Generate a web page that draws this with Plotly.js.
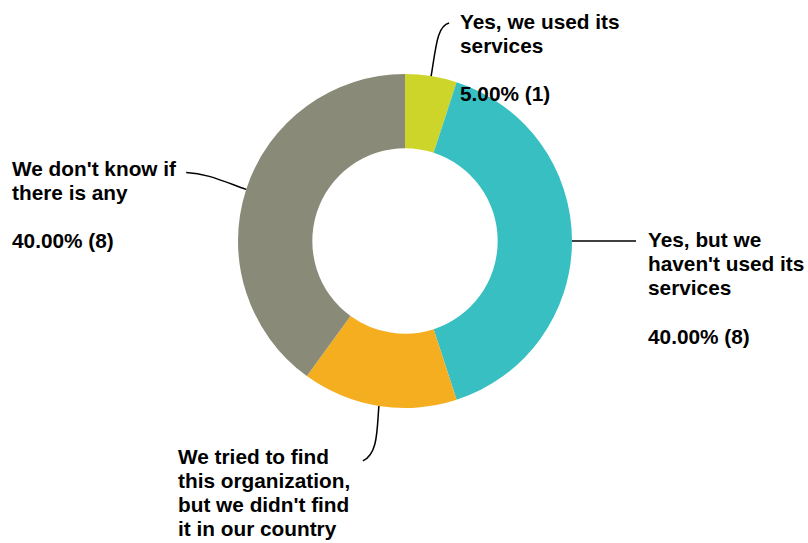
<!DOCTYPE html>
<html>
<head>
<meta charset="utf-8">
<script src="https://cdn.plot.ly/plotly-3.0.1.min.js"></script>
<style>html,body{margin:0;padding:0;background:#fff;}#chart{width:808px;height:543px;}</style>
</head>
<body>
<div id="chart"></div>
<script>
// ---- data ----
const categories = [
  "Yes, we used its services",
  "Yes, but we haven't used its services",
  "We tried to find this organization, but we didn't find it in our country",
  "We don't know if there is any"
];
const labelLines = [
  ["Yes, we used its", "services"],
  ["Yes, but we", "haven't used its", "services"],
  ["We tried to find", "this organization,", "but we didn't find", "it in our country"],
  ["We don't know if", "there is any"]
];
const percents = [5.00, 40.00, 15.00, 40.00];
const counts = [1, 8, 3, 8];
const colors = ["#CDD52A", "#37BFC1", "#F5AE1F", "#898A78"];

// ---- layout geometry (pixels) ----
const W = 808, H = 543;
const cx = 405, cy = 241, R = 167;
const fontSize = 20.8, lineH = 24.3;
// label placement: left x, first baseline y
const labelPos = [
  {x: 459, y: 28},
  {x: 647, y: 246},
  {x: 177, y: 463},
  {x: 11, y: 175}
];
// leader line shapes: control offsets relative to slice edge point
const leaderPaths = [
  (p) => `M ${p[0]},${p[1]} C ${p[0]+5},${p[1]-30} ${p[0]+6},${p[1]-50} ${p[0]+18},${p[1]-53}`,
  (p) => `M ${p[0]},${p[1]} L 636,${p[1]}`,
  (p) => `M ${p[0]},${p[1]} C ${p[0]-2},${p[1]+25} ${p[0]-1},${p[1]+48} ${p[0]-16},${p[1]+55}`,
  (p) => `M ${p[0]},${p[1]} C ${p[0]-25},${p[1]-9} ${p[0]-40},${p[1]-16} ${p[0]-60},${p[1]-17}`
];

const px = (x) => x / W;
const py = (y) => 1 - y / H;

// slice mid-angles from data
const total = counts.reduce((a, b) => a + b, 0);
let acc = 0;
const edgePts = counts.map(v => {
  const mid = (acc + v / 2) / total * 2 * Math.PI;
  acc += v;
  return [cx + R * Math.sin(mid), cy - R * Math.cos(mid)];
});

const shapes = edgePts.map((p, i) => {
  const d = leaderPaths[i](p).replace(/(-?\d+(\.\d+)?),(-?\d+(\.\d+)?)/g, (m, a, b, c, e) =>
    `${px(parseFloat(a)).toFixed(5)},${py(parseFloat(c)).toFixed(5)}`);
  return {type: 'path', xref: 'paper', yref: 'paper', path: d, line: {color: '#000', width: 1.5}};
});

const annotations = [];
labelLines.forEach((lines, i) => {
  const all = lines.concat(["", percents[i].toFixed(2) + "% (" + counts[i] + ")"]);
  all.forEach((t, j) => {
    if (!t) return;
    const base = labelPos[i].y + j * lineH;
    annotations.push({
      xref: 'paper', yref: 'paper',
      x: px(labelPos[i].x), y: py(base - 7),
      xanchor: 'left', yanchor: 'middle',
      text: '<b>' + t + '</b>', showarrow: false,
      borderpad: 0,
      font: {family: 'Liberation Sans, Arial, sans-serif', size: fontSize, color: '#000'},
      align: 'left'
    });
  });
});

const trace = {
  type: 'pie',
  labels: categories,
  values: counts,
  sort: false,
  direction: 'clockwise',
  rotation: 0,
  hole: 0.555,
  textinfo: 'none',
  hoverinfo: 'label+percent',
  marker: {colors: colors, line: {width: 0}},
  domain: {x: [px(cx - R), px(cx + R)], y: [py(cy + R), py(cy - R)]}
};

Plotly.newPlot('chart', [trace], {
  width: W, height: H,
  margin: {l: 0, r: 0, t: 0, b: 0},
  showlegend: false,
  paper_bgcolor: '#fff',
  shapes: shapes,
  annotations: annotations
}, {staticPlot: true});
</script>
</body>
</html>
